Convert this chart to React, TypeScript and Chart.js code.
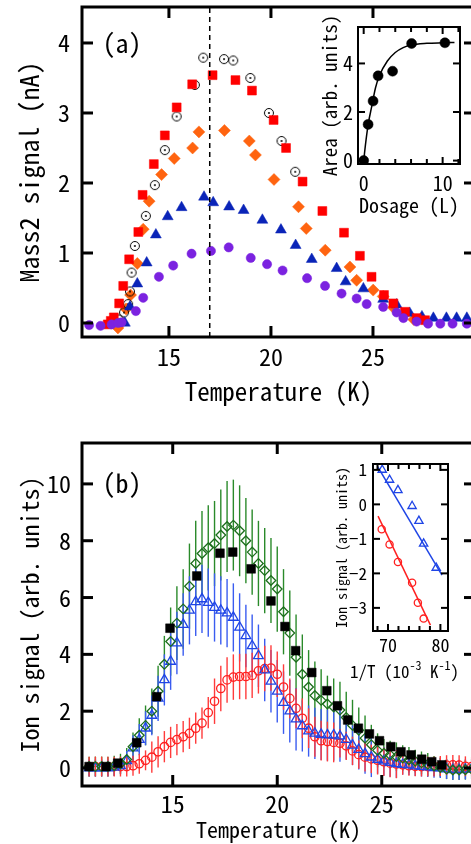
import React, { useEffect, useRef } from 'react';
import { Chart, registerables } from 'chart.js';

Chart.register(...registerables);

const FONT = '"Noto Sans Mono CJK JP", "Noto Sans CJK JP", "DejaVu Sans Mono", monospace';

// ---------- Panel (a) ----------
const aXTicks = [15, 20, 25];
const aYTicks = [0, 1, 2, 3, 4];
const dashT = 17;

const aRedT = [12.0, 12.15, 12.3, 12.56, 12.76, 13.05, 13.5, 13.71, 14.26, 14.8, 15.38, 16.14, 17.14, 18.26, 19.07, 20.13, 20.74, 21.55, 22.52, 23.58, 24.36, 24.93, 25.54, 26.0, 26.57, 27.14, 27.55];
const aRedV = [-0.02, 0.03, 0.08, 0.28, 0.53, 0.91, 1.3, 1.83, 2.27, 2.68, 3.08, 3.41, 3.54, 3.47, 3.32, 2.9, 2.5, 2.02, 1.6, 1.29, 0.96, 0.66, 0.4, 0.28, 0.16, 0.07, 0.04];

const aDotT = [12.55, 12.8, 13.0, 13.09, 13.17, 13.33, 13.87, 14.31, 14.8, 15.38, 16.27, 16.68, 17.7, 18.15, 18.99, 19.9, 20.52, 21.19];
const aDotV = [0.05, 0.15, 0.27, 0.45, 0.72, 1.1, 1.53, 1.97, 2.47, 2.95, 3.4, 3.79, 3.77, 3.75, 3.5, 3.0, 2.6, 2.16];

const aOrangeT = [12.5, 12.9, 13.12, 13.45, 13.74, 14.03, 14.64, 15.26, 16.16, 16.47, 17.72, 18.94, 19.24, 20.15, 21.35, 21.73, 22.66, 23.87, 24.2, 25.01, 25.5, 26.0, 26.5, 27.0];
const aOrangeV = [-0.07, 0.2, 0.4, 0.85, 1.34, 1.74, 2.12, 2.35, 2.5, 2.73, 2.75, 2.6, 2.4, 2.05, 1.66, 1.35, 1.04, 0.8, 0.61, 0.47, 0.38, 0.22, 0.12, 0.05];

const aBlueT = [12.84, 13.09, 13.45, 13.91, 14.36, 14.94, 15.62, 16.72, 17.17, 17.95, 18.66, 19.58, 20.49, 21.21, 22.0, 23.22, 23.66, 24.53, 25.5, 26.16, 26.8, 27.4, 27.96, 28.6, 29.1, 29.6];
const aBlueV = [0.0, 0.23, 0.56, 0.86, 1.26, 1.52, 1.65, 1.8, 1.72, 1.66, 1.61, 1.47, 1.33, 1.11, 0.91, 0.78, 0.59, 0.49, 0.34, 0.26, 0.14, 0.09, 0.07, 0.07, 0.07, 0.07];

const aPurpleT = [11.09, 11.65, 12.19, 12.51, 12.68, 13.38, 13.74, 14.51, 15.21, 16.11, 17.06, 17.93, 19.01, 19.81, 20.57, 21.77, 22.65, 23.46, 24.2, 24.69, 25.5, 26.16, 26.49, 27.14, 27.7, 28.3, 28.9, 29.6];
const aPurpleV = [-0.03, -0.04, -0.02, 0.0, 0.01, 0.17, 0.36, 0.66, 0.82, 0.99, 1.03, 1.08, 0.93, 0.84, 0.75, 0.64, 0.53, 0.42, 0.35, 0.27, 0.23, 0.15, 0.07, 0.02, -0.01, -0.01, -0.01, -0.01];

// inset (a)
const dosage = [0, 0.56, 1.19, 1.83, 3.66, 6.07, 10.29];
const area = [0, 1.49, 2.45, 3.49, 3.68, 4.82, 4.85];
const fitDosage = [0, 0.3, 0.6, 1.0, 1.5, 2.0, 3.0, 4.0, 5.0, 6.0, 8.0, 10.0, 11.5];
const fitArea = [0, 0.85, 1.55, 2.2, 3.0, 3.5, 4.1, 4.45, 4.65, 4.76, 4.83, 4.85, 4.86];
const aiXTicks = [0, 10];
const aiXMinor = [2, 4, 6, 8, 12];
const aiYTicks = [0, 2, 4];

// ---------- Panel (b) ----------
const bXTicks = [15, 20, 25];
const bYTicks = [0, 2, 4, 6, 8, 10];

const bSqT = [11.0, 11.81, 12.37, 13.28, 14.23, 14.87, 16.15, 17.26, 17.87, 18.75, 19.7, 20.37, 20.88, 21.65, 22.37, 22.88, 23.37, 23.88, 24.41, 24.89, 25.43, 25.92, 26.4, 26.91, 27.39, 27.87];
const bSqV = [0.05, 0.05, 0.17, 0.89, 2.51, 4.92, 6.76, 7.56, 7.6, 7.01, 5.88, 4.98, 4.13, 3.36, 2.72, 2.19, 1.69, 1.4, 1.2, 0.96, 0.75, 0.57, 0.46, 0.31, 0.22, 0.11];

const bT = [11.0, 11.3, 11.6, 11.9, 12.2, 12.5, 12.8, 13.1, 13.4, 13.7, 14.0, 14.3, 14.6, 14.9, 15.2, 15.5, 15.8, 16.1, 16.4, 16.7, 17.0, 17.3, 17.6, 17.9, 18.2, 18.5, 18.8, 19.1, 19.4, 19.7, 20.0, 20.3, 20.6, 20.9, 21.2, 21.5, 21.8, 22.1, 22.4, 22.7, 23.0, 23.3, 23.6, 23.9, 24.2, 24.5, 24.8, 25.1, 25.4, 25.7, 26.0, 26.3, 26.6, 26.9, 27.2, 27.5, 27.8, 28.1, 28.4, 28.7, 29.0, 29.3];

const bGreenV = [0.05, 0.05, 0.05, 0.05, 0.08, 0.15, 0.3, 0.75, 1.15, 1.5, 2.0, 2.7, 3.65, 4.45, 5.1, 5.6, 6.4, 7.2, 7.55, 7.75, 7.9, 8.2, 8.5, 8.55, 8.35, 8.0, 7.6, 7.2, 6.95, 6.6, 6.3, 5.5, 4.75, 3.9, 3.3, 2.85, 2.55, 2.38, 2.25, 2.15, 2.04, 1.78, 1.5, 1.33, 1.05, 0.82, 0.62, 0.52, 0.46, 0.4, 0.35, 0.29, 0.24, 0.18, 0.13, 0.07, 0.02, -0.04, -0.07, -0.07, -0.06, -0.04];
const bGreenE = [0.35, 0.35, 0.35, 0.35, 0.35, 0.35, 0.4, 0.5, 0.6, 0.7, 0.8, 0.9, 1.0, 1.2, 1.3, 1.4, 1.5, 1.5, 1.5, 1.5, 1.5, 1.6, 1.6, 1.6, 1.6, 1.5, 1.5, 1.5, 1.5, 1.5, 1.5, 1.5, 1.5, 1.5, 1.4, 1.3, 1.2, 1.1, 1.0, 1.0, 1.0, 0.9, 0.9, 0.8, 0.8, 0.7, 0.6, 0.5, 0.5, 0.5, 0.45, 0.45, 0.4, 0.4, 0.4, 0.35, 0.35, 0.35, 0.35, 0.35, 0.35, 0.35];

const bBlueV = [0.0, 0.0, 0.0, 0.0, 0.02, 0.08, 0.25, 0.7, 1.0, 1.4, 1.85, 2.45, 3.1, 3.75, 4.4, 5.05, 5.55, 5.85, 5.95, 5.82, 5.65, 5.55, 5.45, 5.3, 4.95, 4.65, 4.3, 3.95, 3.45, 3.05, 2.7, 2.3, 2.0, 1.72, 1.48, 1.3, 1.22, 1.18, 1.16, 1.16, 1.12, 1.0, 0.8, 0.65, 0.5, 0.38, 0.3, 0.24, 0.19, 0.15, 0.12, 0.1, 0.07, 0.05, 0.03, 0.01, 0.0, -0.04, -0.06, -0.06, -0.05, -0.03];
const bBlueE = [0.3, 0.3, 0.3, 0.3, 0.3, 0.3, 0.35, 0.45, 0.55, 0.6, 0.7, 0.8, 0.9, 1.0, 1.1, 1.1, 1.2, 1.2, 1.2, 1.2, 1.2, 1.2, 1.2, 1.2, 1.2, 1.1, 1.1, 1.1, 1.1, 1.1, 1.1, 1.1, 1.1, 1.1, 0.9, 0.9, 0.9, 0.9, 0.9, 0.9, 0.9, 0.7, 0.7, 0.7, 0.7, 0.7, 0.5, 0.5, 0.5, 0.5, 0.35, 0.35, 0.35, 0.35, 0.35, 0.35, 0.35, 0.35, 0.35, 0.35, 0.35, 0.35];

const bRedV = [0.05, 0.05, 0.05, 0.05, 0.05, 0.05, 0.05, 0.08, 0.15, 0.27, 0.38, 0.57, 0.75, 0.9, 1.0, 1.1, 1.22, 1.4, 1.58, 1.95, 2.35, 2.8, 3.1, 3.2, 3.22, 3.22, 3.26, 3.42, 3.5, 3.52, 3.3, 2.85, 2.45, 2.1, 1.75, 1.4, 1.1, 0.96, 0.93, 0.9, 0.87, 0.78, 0.6, 0.47, 0.38, 0.32, 0.27, 0.22, 0.17, 0.14, 0.11, 0.08, 0.06, 0.05, 0.05, 0.05, 0.07, 0.1, 0.11, 0.1, 0.06, 0.05];
const bRedE = [0.35, 0.35, 0.35, 0.35, 0.35, 0.35, 0.35, 0.35, 0.35, 0.35, 0.55, 0.55, 0.55, 0.55, 0.55, 0.55, 0.55, 0.55, 0.55, 0.55, 0.8, 0.8, 0.8, 0.8, 0.8, 0.8, 0.8, 0.8, 0.8, 0.8, 0.8, 0.8, 0.7, 0.7, 0.7, 0.7, 0.7, 0.7, 0.7, 0.7, 0.5, 0.5, 0.5, 0.5, 0.5, 0.5, 0.5, 0.5, 0.5, 0.5, 0.35, 0.35, 0.35, 0.35, 0.35, 0.35, 0.35, 0.35, 0.35, 0.35, 0.35, 0.35];

// inset (b)
const biBlueX = [68.9, 70.3, 71.9, 74.6, 75.9, 76.8, 79.2];
const biBlueY = [1.0, 0.71, 0.41, -0.05, -0.48, -1.14, -1.84];
const biBlueFitX = [68.0, 80.3];
const biBlueFitY = [1.1, -2.05];
const biRedX = [68.8, 70.3, 71.9, 74.6, 75.7, 76.8];
const biRedY = [-0.72, -1.16, -1.67, -2.27, -2.85, -3.31];
const biRedFitX = [68.1, 78.1];
const biRedFitY = [-0.34, -3.5];
const biXTicks = [70, 80];
const biXMinor = [68, 72, 74, 76, 78];
const biYTicks = [-3, -2, -1, 0, 1];
// x-axis title of inset (b), drawn as pieces: [text, size, raise]
const biXTitleParts: [string, number, number][] = [['1/T (10', 17, 0], ['-3', 12, 8], [' K', 17, 0], ['-1', 12, 8], [')', 17, 0]];

const zip = (xs: number[], ys: number[]) => xs.map((x, i) => ({ x, y: ys[i] }));

const framePlugin: any = {
  id: 'frame',
  beforeDatasetsDraw(chart: any, _a: any, o: any) {
    const { ctx, chartArea: ca, scales } = chart;
    ctx.save();
    if (o.fill) {
      ctx.fillStyle = '#fff';
      ctx.fillRect(ca.left, ca.top, ca.right - ca.left, ca.bottom - ca.top);
    }
    ctx.beginPath();
    ctx.rect(ca.left, ca.top, ca.right - ca.left, ca.bottom - ca.top);
    ctx.clip();
    chart.data.datasets.forEach((ds: any) => {
      if (!ds.errors) return;
      ctx.strokeStyle = ds.errorColor;
      ctx.lineWidth = 1.4;
      ds.data.forEach((p: any, i: number) => {
        const e = ds.errors[i];
        const x = scales.x.getPixelForValue(p.x);
        ctx.beginPath();
        ctx.moveTo(x, scales.y.getPixelForValue(p.y - e));
        ctx.lineTo(x, scales.y.getPixelForValue(p.y + e));
        ctx.stroke();
      });
    });
    ctx.restore();
  },
  afterDatasetsDraw(chart: any, _a: any, o: any) {
    const { ctx, chartArea, scales } = chart;
    const { left, top, right, bottom } = chartArea;
    const xs = scales.x, ys = scales.y;
    ctx.save();
    ctx.strokeStyle = '#000';
    ctx.lineWidth = o.lw;
    const seg = (x1: number, y1: number, x2: number, y2: number) => {
      ctx.beginPath(); ctx.moveTo(x1, y1); ctx.lineTo(x2, y2); ctx.stroke();
    };
    const xt = (vals: number[], len: number) => vals.forEach((v) => {
      const p = xs.getPixelForValue(v);
      seg(p, bottom, p, bottom - len); seg(p, top, p, top + len);
    });
    const yt = (vals: number[], len: number) => vals.forEach((v) => {
      const p = ys.getPixelForValue(v);
      seg(left, p, left + len, p); seg(right, p, right - len, p);
    });
    xt(o.xMajor, o.major);
    yt(o.yMajor, o.major);
    if (o.xMinor) xt(o.xMinor, o.minor);
    if (o.yMinor) yt(o.yMinor, o.minor);
    ctx.strokeRect(left, top, right - left, bottom - top);
    ctx.fillStyle = '#000';
    if (o.label) {
      ctx.font = `${o.labelSize}px ${FONT}`;
      ctx.textAlign = 'center';
      ctx.textBaseline = 'middle';
      ctx.fillText(o.label, left + o.labelDx, top + o.labelDy);
    }
    if (o.xTitleParts) {
      ctx.textAlign = 'left';
      ctx.textBaseline = 'alphabetic';
      const parts: [string, number, number][] = o.xTitleParts;
      const widths = parts.map(([t, s]) => { ctx.font = `${s}px ${FONT}`; return ctx.measureText(t).width; });
      const total = widths.reduce((a, b) => a + b, 0);
      let x = (left + right) / 2 + o.xTitleDx - total / 2;
      const base = bottom + o.xTitleDy;
      parts.forEach(([t, s, r], i) => {
        ctx.font = `${s}px ${FONT}`;
        ctx.fillText(t, x, base - r);
        x += widths[i];
      });
    }
    ctx.restore();
  },
};

const minusFmt = (v: any) => String(v).replace('-', '\u2212');

const mkScale = (o: any) => ({
  type: 'linear',
  min: o.min,
  max: o.max,
  grid: { display: false, drawTicks: false },
  border: { display: false },
  afterBuildTicks: (s: any) => { s.ticks = o.ticks.map((v: number) => ({ value: v })); },
  afterFit: (s: any) => {
    if (o.width !== undefined) s.width = o.width;
    if (o.height !== undefined) s.height = o.height;
    s.paddingLeft = 0; s.paddingRight = 0; s.paddingTop = 0; s.paddingBottom = 0;
  },
  ticks: {
    font: { family: FONT, size: o.tickSize },
    color: '#000',
    padding: o.tickPad,
    autoSkip: false,
    maxRotation: 0,
    minRotation: 0,
    callback: minusFmt,
  },
  title: {
    display: o.title !== undefined,
    text: o.title || '',
    color: '#000',
    font: { family: FONT, size: o.titleSize || 12 },
    padding: o.titlePad || 0,
  },
});

const common = {
  responsive: false,
  animation: false as const,
  events: [] as any[],
  devicePixelRatio: 1,
};

function dotCircleImage(): HTMLCanvasElement {
  const c = document.createElement('canvas');
  c.width = 12; c.height = 12;
  const g = c.getContext('2d')!;
  g.strokeStyle = '#000';
  g.lineWidth = 1;
  g.beginPath(); g.arc(6, 6, 4.5, 0, Math.PI * 2); g.stroke();
  g.fillStyle = '#000';
  g.beginPath(); g.arc(6, 6, 1, 0, Math.PI * 2); g.fill();
  return c;
}

function cfgA(): any {
  return {
    type: 'scatter',
    data: {
      datasets: [
        { data: [{ x: dashT, y: -0.2 }, { x: dashT, y: 4.51 }], showLine: true, borderColor: '#000', borderWidth: 1.5, borderDash: [5, 4], pointRadius: 0 },
        { data: zip(aPurpleT, aPurpleV), pointStyle: 'circle', pointRadius: 4.6, backgroundColor: '#7b22e0', borderColor: '#7b22e0', borderWidth: 0.5 },
        { data: zip(aRedT, aRedV), pointStyle: 'rect', pointRadius: 6.3, backgroundColor: '#ff0000', borderColor: '#ff0000', borderWidth: 0.5 },
        { data: zip(aBlueT, aBlueV), pointStyle: 'triangle', pointRadius: 6.3, backgroundColor: '#0a24b8', borderColor: '#0a24b8', borderWidth: 0.5 },
        { data: zip(aDotT, aDotV), pointStyle: dotCircleImage(), pointRadius: 5 },
        { data: zip(aOrangeT, aOrangeV), pointStyle: 'rectRot', pointRadius: 6, backgroundColor: '#ff6410', borderColor: '#ff6410', borderWidth: 0.5 },
      ],
    },
    options: {
      ...common,
      layout: { padding: { left: 0, top: 7, right: 45, bottom: 0 } },
      scales: {
        x: mkScale({ min: 10.74, max: 30.0, ticks: aXTicks, tickSize: 24, tickPad: 5, title: 'Temperature (K)', titleSize: 25, titlePad: { top: 0, bottom: 4 }, height: 73 }),
        y: mkScale({ min: -0.2, max: 4.514, ticks: aYTicks, tickSize: 24, tickPad: 12, title: 'Mass2 signal (nA)', titleSize: 26, titlePad: { top: 14, bottom: 0 }, width: 82 }),
      },
      plugins: {
        legend: { display: false },
        tooltip: { enabled: false },
        frame: { lw: 3, major: 11, xMajor: aXTicks, yMajor: aYTicks, label: '(a)', labelSize: 26, labelDx: 40, labelDy: 36 },
      },
    },
    plugins: [framePlugin],
  };
}

function cfgAi(): any {
  return {
    type: 'scatter',
    data: {
      datasets: [
        { data: zip(dosage, area), pointStyle: 'circle', pointRadius: 5, backgroundColor: '#000', borderColor: '#000', borderWidth: 0.5 },
        { data: zip(fitDosage, fitArea), showLine: true, cubicInterpolationMode: 'monotone', borderColor: '#000', borderWidth: 1.5, pointRadius: 0 },
      ],
    },
    options: {
      ...common,
      layout: { padding: { left: 0, top: 27, right: 20, bottom: 0 } },
      scales: {
        x: mkScale({ min: -0.72, max: 12.2, ticks: aiXTicks, tickSize: 20, tickPad: 7, title: 'Dosage (L)', titleSize: 20, titlePad: { top: 0, bottom: 13 }, height: 66 }),
        y: mkScale({ min: -0.14, max: 5.5, ticks: aiYTicks, tickSize: 20, tickPad: 5, title: 'Area (arb. units)', titleSize: 19, titlePad: { top: 28, bottom: 0 }, width: 68 }),
      },
      plugins: {
        legend: { display: false },
        tooltip: { enabled: false },
        frame: { lw: 2, major: 7, minor: 5, xMajor: aiXTicks, xMinor: aiXMinor, yMajor: aiYTicks, fill: true },
      },
    },
    plugins: [framePlugin],
  };
}

function cfgB(): any {
  return {
    type: 'scatter',
    data: {
      datasets: [
        { data: zip(bSqT, bSqV), pointStyle: 'rect', pointRadius: 6.2, backgroundColor: '#000', borderColor: '#000', borderWidth: 0.5 },
        { data: zip(bT, bGreenV), errors: bGreenE, errorColor: '#2a8a2a', pointStyle: 'rectRot', pointRadius: 4.8, backgroundColor: 'rgba(0,0,0,0)', borderColor: '#1d6e1d', borderWidth: 1.3 },
        { data: zip(bT, bBlueV), errors: bBlueE, errorColor: '#3a5cf0', pointStyle: 'triangle', pointRadius: 5.6, backgroundColor: 'rgba(0,0,0,0)', borderColor: '#1f45e6', borderWidth: 1.3 },
        { data: zip(bT, bRedV), errors: bRedE, errorColor: '#ff3b3b', pointStyle: 'circle', pointRadius: 4.2, backgroundColor: 'rgba(0,0,0,0)', borderColor: '#ff2020', borderWidth: 1.3 },
      ],
    },
    options: {
      ...common,
      layout: { padding: { left: 0, top: 23, right: 45, bottom: 0 } },
      scales: {
        x: mkScale({ min: 10.66, max: 29.46, ticks: bXTicks, tickSize: 24, tickPad: 3, title: 'Temperature (K)', titleSize: 22, titlePad: { top: 0, bottom: 1 }, height: 58 }),
        y: mkScale({ min: -0.634, max: 11.44, ticks: bYTicks, tickSize: 24, tickPad: 11, title: 'Ion signal (arb. units)', titleSize: 24, titlePad: { top: 15, bottom: 0 }, width: 82 }),
      },
      plugins: {
        legend: { display: false },
        tooltip: { enabled: false },
        frame: { lw: 3, major: 11, xMajor: bXTicks, yMajor: bYTicks, label: '(b)', labelSize: 26, labelDx: 40, labelDy: 40 },
      },
    },
    plugins: [framePlugin],
  };
}

function cfgBi(): any {
  return {
    type: 'scatter',
    data: {
      datasets: [
        { data: zip(biBlueX, biBlueY), pointStyle: 'triangle', pointRadius: 4.8, backgroundColor: 'rgba(0,0,0,0)', borderColor: '#1f45e6', borderWidth: 1.3 },
        { data: zip(biRedX, biRedY), pointStyle: 'circle', pointRadius: 3.6, backgroundColor: 'rgba(0,0,0,0)', borderColor: '#ff2020', borderWidth: 1.3 },
        { data: zip(biBlueFitX, biBlueFitY), showLine: true, borderColor: '#1f45e6', borderWidth: 1.5, pointRadius: 0 },
        { data: zip(biRedFitX, biRedFitY), showLine: true, borderColor: '#ff2020', borderWidth: 1.5, pointRadius: 0 },
      ],
    },
    options: {
      ...common,
      layout: { padding: { left: 0, top: 34, right: 32, bottom: 0 } },
      scales: {
        x: mkScale({ min: 67.14, max: 81.45, ticks: biXTicks, tickSize: 18, tickPad: 3, height: 59 }),
        y: mkScale({ min: -3.67, max: 1.17, ticks: biYTicks, tickSize: 17, tickPad: 6, title: 'Ion signal (arb. units)', titleSize: 14, titlePad: { top: 43, bottom: 0 }, width: 83 }),
      },
      plugins: {
        legend: { display: false },
        tooltip: { enabled: false },
        frame: { lw: 2, major: 7, minor: 5, xMajor: biXTicks, xMinor: biXMinor, yMajor: biYTicks, fill: true, xTitleParts: biXTitleParts, xTitleDx: -6, xTitleDy: 47 },
      },
    },
    plugins: [framePlugin],
  };
}

export default function App() {
  const refA = useRef<HTMLCanvasElement>(null);
  const refAi = useRef<HTMLCanvasElement>(null);
  const refB = useRef<HTMLCanvasElement>(null);
  const refBi = useRef<HTMLCanvasElement>(null);

  useEffect(() => {
    Chart.defaults.color = '#000';
    Chart.defaults.font.family = FONT;
    const charts = [
      new Chart(refA.current!, cfgA()),
      new Chart(refB.current!, cfgB()),
      new Chart(refAi.current!, cfgAi()),
      new Chart(refBi.current!, cfgBi()),
    ];
    return () => charts.forEach((c) => c.destroy());
  }, []);

  return (
    <div style={{ position: 'fixed', left: 0, top: 0, width: 471, height: 844, overflow: 'hidden', background: '#fff' }}>
      <canvas ref={refA} width={520} height={410} style={{ position: 'absolute', left: 0, top: 0 }} />
      <canvas ref={refB} width={520} height={424} style={{ position: 'absolute', left: 0, top: 420 }} />
      <canvas ref={refAi} width={190} height={230} style={{ position: 'absolute', left: 290, top: 0 }} />
      <canvas ref={refBi} width={190} height={260} style={{ position: 'absolute', left: 290, top: 430 }} />
    </div>
  );
}
